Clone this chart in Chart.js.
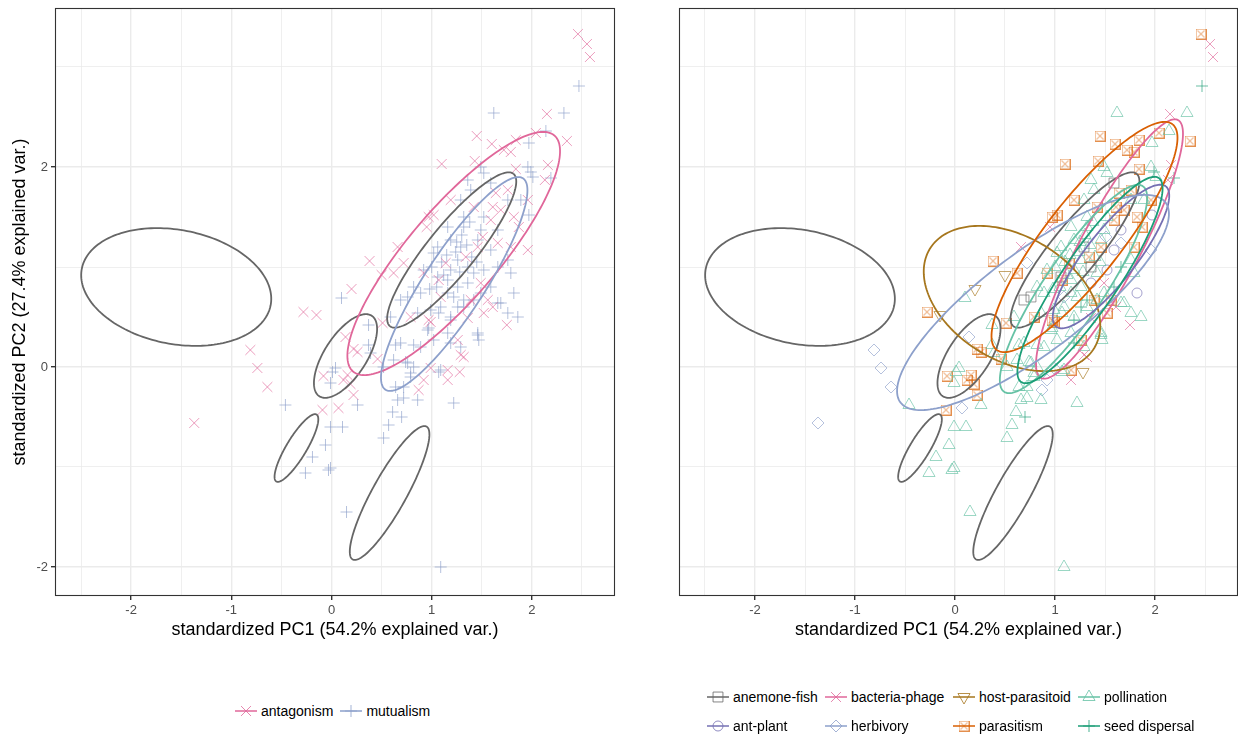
<!DOCTYPE html>
<html>
<head>
<meta charset="utf-8">
<script src="https://cdn.jsdelivr.net/npm/chart.js@4.4.0/dist/chart.umd.min.js"></script>
<style>
  body { margin: 0; width: 1238px; height: 738px; background: #fff; position: relative; overflow: hidden;
         font-family: "Liberation Sans", Arial, sans-serif; }
  canvas.panel { position: absolute; top: 0; }
  #pcaLeft { left: 0; }
  #pcaRight { left: 619px; }
  .legend { position: absolute; font-size: 14px; color: #000; }
  #legendLeft { left: 235px; top: 702px; display: flex; }
  #legendLeft .item { margin-right: 7px; }
  #legendRight { left: 707px; top: 688px; display: grid; grid-template-columns: 118px 128px 125px auto; grid-auto-rows: 29px; }
  .item { display: flex; align-items: center; height: 18px; white-space: nowrap; }
  .item canvas { margin-right: 4px; }
</style>
</head>
<body>
<canvas id="pcaLeft" class="panel" width="623" height="660"></canvas>
<canvas id="pcaRight" class="panel" width="627" height="660"></canvas>
<div id="legendLeft" class="legend"></div>
<div id="legendRight" class="legend"></div>
<script>
// axis breaks
const xTicks = [-2.5, -2, -1.5, -1, -0.5, 0, 0.5, 1, 1.5, 2, 2.5];
const xLabelled = [-2, -1, 0, 1, 2];
const yTicks = [-2, -1, 0, 1, 2, 3];
const yLabelled = [-2, 0, 2];
const xRange = [-2.76, 2.83];
const yRange = [-2.29, 3.59];
const xTitle = 'standardized PC1 (54.2% explained var.)';
const yTitle = 'standardized PC2 (27.4% explained var.)';

// PCA scores per interaction type [PC1, PC2]
const anemoneFish = [[1.59,1.84],[1.29,1.20],[0.76,0.70],[1.06,0.90],[0.69,0.67],[1.36,1.00]];
const antPlant = [[1.82,0.74],[1.97,1.52],[1.66,1.37],[1.52,0.97],[1.59,1.17],[1.36,0.84]];
const bacteriaPhage = [[1.29,0.12],[1.32,0.10],[1.16,-0.13],[1.36,0.49],[2.15,2.53],[2.16,2.02],[2.13,1.87],
  [0.66,1.20],[1.49,0.84],[1.61,0.60],[0.95,1.40],[1.75,0.42],[2.55,3.23],[2.58,3.10]];
const herbivory = [[-1.37,-0.56],[-0.81,0.17],[-0.74,-0.01],[-0.64,-0.20],[0.14,0.30],[0.07,-0.41],[0.99,-0.01],
  [0.87,-0.23],[0.92,-0.13],[0.72,1.04],[1.96,1.17],[1.66,1.24],[1.09,0.70],[1.51,1.30]];
const hostParasitoid = [[0.20,0.78],[-0.15,0.52],[0.50,0.92],[1.28,-0.05]];
const parasitism = [[-0.28,0.55],[0.22,0.18],[0.26,0.15],[-0.08,-0.09],[0.12,-0.13],[0.16,-0.08],[0.19,-0.17],
  [0.22,-0.28],[-0.09,-0.43],[0.51,0.44],[0.46,0.08],[1.16,-0.03],[0.79,0.50],[0.99,0.45],[1.52,0.54],[1.26,0.27],
  [1.45,2.31],[1.60,2.23],[1.72,2.17],[1.79,2.15],[1.84,2.27],[2.04,2.34],[2.35,2.26],[1.10,2.03],[1.84,1.98],
  [1.43,2.06],[0.38,1.06],[0.62,0.94],[0.97,1.50],[1.02,1.52],[1.19,1.67],[1.42,1.60],[1.61,1.60],[1.64,1.74],
  [1.76,1.77],[1.87,1.40],[1.96,1.67],[1.79,1.20],[1.46,1.20],[1.14,1.04],[1.07,0.87],[0.92,0.94],[1.56,0.67],
  [1.39,0.67],[0.97,0.47],[1.69,1.57],[1.59,1.47],[1.34,1.10],[1.82,1.50],[2.46,3.33]];
const pollination = [[0.10,0.69],[-0.46,-0.38],[0.01,-0.05],[0.04,-0.01],[-0.01,-0.16],[0.26,-0.38],[-0.01,-0.60],
  [0.11,-0.60],[-0.06,-0.78],[-0.19,-0.90],[-0.26,-1.06],[-0.01,-1.01],[-0.03,-1.03],[0.15,-1.45],[0.37,0.22],
  [0.39,0.14],[0.37,0.42],[0.52,-0.71],[0.57,-0.58],[0.61,-0.45],[0.66,-0.33],[0.64,0.22],[0.52,0.00],
  [1.09,-2.00],[1.22,-0.36],[0.72,-0.31],[0.86,-0.33],[0.64,-0.20],[0.79,-0.10],[0.82,0.00],[0.74,0.05],
  [0.89,0.20],[1.02,0.27],[1.07,-0.05],[1.29,0.20],[1.46,0.32],[1.47,0.27],[1.76,0.54],[1.86,0.50],[1.66,0.64],
  [0.97,0.39],[1.07,0.54],[0.86,0.54],[0.82,0.22],[1.62,2.54],[2.32,2.54],[1.97,2.24],[2.14,2.36],[1.49,2.00],
  [1.52,1.94],[1.96,2.00],[2.01,1.90],[1.36,1.87],[1.39,1.77],[1.29,1.67],[1.76,1.67],[1.89,1.67],[1.52,1.50],
  [1.32,1.50],[1.32,1.40],[1.16,1.40],[1.49,1.37],[1.46,1.27],[1.19,1.27],[1.06,1.20],[1.02,1.14],[1.26,1.07],
  [1.42,0.94],[1.76,1.07],[1.79,0.94],[1.69,0.64],[1.16,0.87],[1.19,0.97],[0.92,0.97],[0.82,0.80],[0.89,0.74],
  [0.59,0.50],[0.99,0.57],[1.09,0.60],[1.19,0.50],[1.32,0.60],[1.42,0.67],[1.49,0.74],[1.26,0.80],[1.16,0.74],
  [0.96,0.37],[0.69,0.24],[1.16,0.34],[1.46,0.34],[0.76,0.04],[0.62,0.07],[0.79,-0.06],[1.09,-0.03],[0.72,-0.20],
  [1.10,1.05],[1.24,1.15],[1.35,1.22],[1.12,0.92],[1.28,0.95],[1.40,1.10],[1.05,0.80],[1.22,0.70],[0.98,0.78],
  [1.30,1.32],[1.15,1.12],[1.38,1.45],[1.45,1.05],[1.00,1.00],[1.25,1.25]];
const seedDispersal = [[2.47,2.81],[1.99,1.95],[2.19,1.89],[0.70,-0.50],[1.19,0.24],[1.19,0.47],[1.26,0.60],
  [1.66,1.00],[1.59,0.80],[1.32,0.67]];

// confidence ellipses: [centre PC1, centre PC2, semi-major, semi-minor, angle deg]
const otherEllipses = [[-1.55,0.80,0.96,0.57,-11],[0.14,0.11,0.48,0.21,57],[-0.35,-0.81,0.39,0.10,59],[0.58,-1.26,0.76,0.17,61]];
const antagonismEllipse = [1.22,1.135,1.55,0.45,49.6];
const mutualismEllipse = [1.225,0.83,1.26,0.30,57];
const anemoneFishEllipse = [1.20,1.17,0.98,0.24,51];
const antPlantEllipse = [1.56,1.105,0.89,0.25,52];
const bacteriaPhageEllipse = [1.545,1.18,1.46,0.30,62];
const herbivoryEllipse = [0.78,0.645,1.66,0.50,37];
const hostParasitoidEllipse = [0.57,0.685,0.96,0.62,-31];
const parasitismEllipse = [1.295,1.30,1.43,0.38,52];
const pollinationEllipse = [1.185,0.78,1.24,0.30,56];
const seedDispersalEllipse = [1.35,0.87,1.23,0.28,56];

Chart.defaults.font.family = '"Liberation Sans", Arial, sans-serif';

function rgba(hex, a) {
  const n = parseInt(hex.slice(1), 16);
  return `rgba(${n >> 16},${(n >> 8) & 255},${n & 255},${a})`;
}

// square with a cross inside, used for parasitism
function boxCross(color) {
  const c = document.createElement('canvas');
  c.width = 11; c.height = 11;
  const g = c.getContext('2d');
  g.strokeStyle = color; g.lineWidth = 1;
  g.strokeRect(0.5, 0.5, 10, 10);
  g.beginPath();
  g.moveTo(2, 2); g.lineTo(9, 9); g.moveTo(9, 2); g.lineTo(2, 9);
  g.stroke();
  return c;
}

const ALPHA = 0.65;
const GREY = '#666666';

const leftGroups = [
  { label: 'antagonism', color: '#E0679A', style: 'crossRot', r: 7,
    data: [...bacteriaPhage, ...herbivory, ...hostParasitoid, ...parasitism], ellipse: antagonismEllipse },
  { label: 'mutualism', color: '#8DA0CB', style: 'cross', r: 6,
    data: [...anemoneFish, ...antPlant, ...pollination, ...seedDispersal], ellipse: mutualismEllipse }
];

const rightGroups = [
  { label: 'anemone-fish', color: '#666666', style: 'rect', r: 7, data: anemoneFish, ellipse: anemoneFishEllipse },
  { label: 'bacteria-phage', color: '#E0679A', style: 'crossRot', r: 7, data: bacteriaPhage, ellipse: bacteriaPhageEllipse },
  { label: 'host-parasitoid', color: '#A6761D', style: 'triangle', rot: 180, r: 7, data: hostParasitoid, ellipse: hostParasitoidEllipse },
  { label: 'pollination', color: '#66C2A5', style: 'triangle', r: 7, data: pollination, ellipse: pollinationEllipse },
  { label: 'ant-plant', color: '#7570B3', style: 'circle', r: 5, data: antPlant, ellipse: antPlantEllipse },
  { label: 'herbivory', color: '#8DA0CB', style: 'rectRot', r: 6, data: herbivory, ellipse: herbivoryEllipse },
  { label: 'parasitism', color: '#D95F02', style: 'boxCross', r: 6, data: parasitism, ellipse: parasitismEllipse },
  { label: 'seed dispersal', color: '#1B9E77', style: 'cross', r: 6, data: seedDispersal, ellipse: seedDispersalEllipse }
];

function pointStyleOf(g) {
  return g.style === 'boxCross' ? boxCross(rgba(g.color, 0.7)) : g.style;
}

function toDataset(g) {
  return {
    label: g.label,
    data: g.data.map(([x, y]) => ({ x, y })),
    pointStyle: pointStyleOf(g),
    pointRotation: g.rot || 0,
    pointRadius: g.r,
    pointBorderWidth: 1,
    borderColor: rgba(g.color, ALPHA),
    backgroundColor: 'rgba(0,0,0,0)'
  };
}

// ellipses and the panel frame, drawn in data space through the scales
const ellipsePlugin = {
  id: 'ellipses',
  afterDatasetsDraw(chart, args, opts) {
    const { ctx, chartArea, scales: { x, y } } = chart;
    ctx.save();
    ctx.beginPath();
    ctx.rect(chartArea.left, chartArea.top, chartArea.width, chartArea.height);
    ctx.clip();
    ctx.lineWidth = 1.8;
    for (const [e, color] of opts.list) {
      const [cx, cy, a, b, deg] = e;
      const th = deg * Math.PI / 180;
      ctx.beginPath();
      for (let i = 0; i <= 180; i++) {
        const t = i / 180 * 2 * Math.PI;
        const u = a * Math.cos(t), v = b * Math.sin(t);
        const px = x.getPixelForValue(cx + u * Math.cos(th) - v * Math.sin(th));
        const py = y.getPixelForValue(cy + u * Math.sin(th) + v * Math.cos(th));
        if (i === 0) ctx.moveTo(px, py); else ctx.lineTo(px, py);
      }
      ctx.strokeStyle = color;
      ctx.stroke();
    }
    ctx.restore();
  },
  afterDraw(chart) {
    const { ctx, chartArea: c } = chart;
    ctx.save();
    ctx.strokeStyle = '#333333';
    ctx.lineWidth = 1.1;
    ctx.strokeRect(Math.round(c.left) + 0.5, Math.round(c.top) + 0.5, Math.round(c.width) - 1, Math.round(c.height) - 1);
    ctx.restore();
  }
};

function axis(ticks, labelled, range, opts) {
  return {
    type: 'linear',
    min: range[0],
    max: range[1],
    afterBuildTicks: s => { s.ticks = ticks.map(v => ({ value: v })); },
    afterFit: s => {
      if (opts.width) s.width = opts.width;
      if (opts.height) s.height = opts.height;
      // keep the plot area fixed by the layout padding alone
      s.paddingTop = s.paddingBottom = s.paddingLeft = s.paddingRight = 0;
    },
    border: { display: false },
    grid: {
      color: '#EBEBEB',
      lineWidth: c => labelled.includes(c.tick && c.tick.value) ? 1.4 : 0.8,
      tickColor: c => opts.marks && labelled.includes(c.tick && c.tick.value) ? '#333333' : 'rgba(0,0,0,0)',
      tickLength: 4
    },
    ticks: {
      display: opts.labels,
      autoSkip: false,
      maxRotation: 0,
      padding: 3,
      color: '#4D4D4D',
      font: { size: 13 },
      callback: v => labelled.includes(v) ? String(v) : ''
    },
    title: {
      display: !!opts.title,
      text: opts.title,
      color: '#000000',
      font: { size: 18 },
      padding: opts.titlePad || { top: 0, bottom: 0 }
    }
  };
}

function makePanel(id, groups, showY, padRight) {
  const ellipses = [
    ...otherEllipses.map(e => [e, GREY]),
    ...(groups === leftGroups ? [[anemoneFishEllipse, GREY]] : []),
    ...groups.map(g => [g.ellipse, g.color])
  ];
  return new Chart(document.getElementById(id), {
    type: 'scatter',
    data: { datasets: groups.map(toDataset) },
    options: {
      responsive: false,
      animation: false,
      events: [],
      layout: { padding: { top: 8, right: padRight, bottom: 19, left: 0 } },
      scales: {
        x: axis(xTicks, xLabelled, xRange, { height: 45, labels: true, marks: true, title: xTitle }),
        y: axis(yTicks, yLabelled, yRange, showY
          ? { width: 55, labels: true, marks: true, title: yTitle, titlePad: { top: 9, bottom: 0 } }
          : { width: 60, labels: false, marks: false })
      },
      plugins: {
        legend: { display: false },
        tooltip: { enabled: false },
        ellipses: { list: ellipses }
      }
    },
    plugins: [ellipsePlugin]
  });
}

makePanel('pcaLeft', leftGroups, true, 6);
makePanel('pcaRight', rightGroups, false, 1);

// legend keys: ellipse line with the point symbol on top
function buildLegend(el, groups) {
  for (const g of groups) {
    const item = document.createElement('div');
    item.className = 'item';
    const key = document.createElement('canvas');
    key.width = 22; key.height = 18;
    const ctx = key.getContext('2d');
    ctx.strokeStyle = g.color;
    ctx.lineWidth = 1.5;
    ctx.beginPath(); ctx.moveTo(0, 9); ctx.lineTo(22, 9); ctx.stroke();
    ctx.strokeStyle = rgba(g.color, 0.8);
    ctx.fillStyle = 'rgba(0,0,0,0)';
    ctx.lineWidth = 1;
    Chart.helpers.drawPoint(ctx, { pointStyle: pointStyleOf(g), rotation: g.rot || 0, radius: g.r, borderWidth: 1 }, 11, 9);
    const label = document.createElement('span');
    label.textContent = g.label;
    item.appendChild(key);
    item.appendChild(label);
    el.appendChild(item);
  }
}
buildLegend(document.getElementById('legendLeft'), leftGroups);
buildLegend(document.getElementById('legendRight'), rightGroups);
</script>
</body>
</html>
